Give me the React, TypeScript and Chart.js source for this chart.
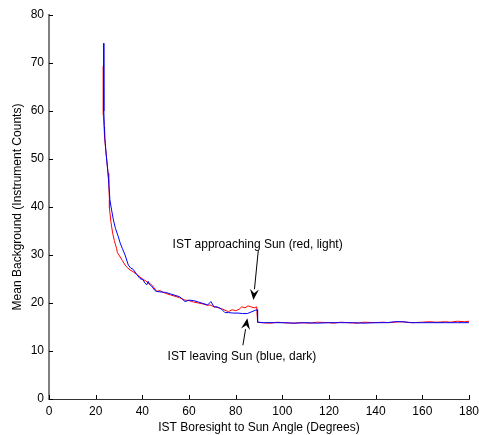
import React, { useEffect, useRef } from "react";
import { Chart, registerables } from "chart.js";

Chart.register(...registerables);

// Red: IST approaching Sun (light)
const redX = [23.3, 23.3, 23.6, 23.8, 24.3, 24.8, 25.3, 25.6, 25.9, 25.9, 26.5, 27.3, 28.0, 29.0, 29.3, 30.5, 31.5, 32.6, 33.5, 34.7, 36.1, 37.5, 39.0, 40.4, 41.5, 42.5, 43.5, 44.5, 46.2, 47.5, 48.5, 50.0, 52.0, 54.0, 56.0, 58.3, 60.0, 62.0, 64.0, 66.0, 68.0, 69.0, 70.7, 72.0, 74.0, 76.9, 78.5, 80.0, 81.5, 82.6, 84.0, 85.3, 86.5, 88.0, 89.0, 89.4, 91.0, 95.0, 98.0, 100.0, 105.0, 108.0, 112.0, 115.0, 120.0, 122.0, 125.0, 128.0, 132.0, 135.0, 140.0, 143.0, 146.0, 150.0, 153.0, 156.0, 160.0, 163.0, 166.0, 170.0, 172.0, 175.0, 178.0, 180.0];
const redY = [69.4, 59.2, 56.7, 54.6, 52.0, 49.5, 47.0, 45.0, 41.5, 39.8, 37.0, 34.5, 33.0, 31.3, 30.5, 29.6, 28.8, 27.9, 27.4, 26.9, 26.5, 26.0, 25.4, 24.9, 24.6, 24.2, 24.0, 23.5, 22.4, 22.6, 22.3, 22.0, 21.7, 21.4, 21.1, 20.6, 20.5, 20.2, 20.0, 19.8, 19.5, 19.6, 19.2, 19.1, 18.8, 18.2, 18.6, 18.4, 18.7, 19.2, 19.0, 19.4, 19.2, 19.0, 19.2, 16.0, 15.9, 15.8, 16.0, 15.9, 15.8, 15.9, 15.8, 16.0, 15.9, 15.8, 16.0, 15.9, 15.8, 16.0, 15.9, 16.0, 15.9, 16.1, 16.0, 15.9, 16.0, 16.1, 16.0, 16.1, 16.0, 16.2, 16.1, 16.2];

// Blue: IST leaving Sun (dark)
const blueX = [23.4, 23.5, 23.7, 24.0, 24.5, 25.0, 25.5, 26.1, 26.6, 27.6, 28.5, 29.7, 30.5, 31.4, 32.6, 34.0, 35.0, 36.1, 37.5, 39.0, 40.4, 41.0, 41.9, 42.5, 43.0, 44.0, 45.4, 46.2, 48.0, 50.0, 52.0, 54.0, 56.0, 58.3, 60.0, 62.0, 64.0, 66.0, 68.0, 69.4, 70.7, 72.0, 74.0, 75.4, 77.0, 79.0, 81.0, 83.0, 85.0, 87.0, 88.5, 89.3, 89.4, 92.0, 96.0, 100.0, 105.0, 110.0, 115.0, 120.0, 125.0, 130.0, 135.0, 140.0, 145.0, 148.0, 152.0, 155.0, 160.0, 165.0, 170.0, 175.0, 180.0];
const blueY = [74.1, 60.0, 57.0, 54.0, 51.0, 48.5, 46.0, 41.5, 40.0, 37.3, 35.5, 33.8, 32.5, 31.4, 30.0, 27.9, 27.3, 27.0, 26.0, 25.1, 24.8, 24.2, 23.8, 24.5, 23.9, 23.5, 22.6, 22.4, 22.3, 22.2, 21.9, 21.6, 21.3, 20.3, 20.6, 20.5, 20.2, 19.9, 19.6, 20.3, 19.2, 19.2, 18.7, 18.0, 18.0, 17.9, 17.9, 17.8, 17.8, 18.2, 18.5, 18.6, 16.0, 15.9, 15.9, 15.9, 15.8, 15.9, 15.8, 15.9, 15.9, 15.9, 15.8, 15.9, 15.9, 16.1, 16.1, 15.9, 15.9, 15.9, 15.9, 15.9, 15.9];

const xTicks = [0, 20, 40, 60, 80, 100, 120, 140, 160, 180];
const yTicks = [0, 10, 20, 30, 40, 50, 60, 70, 80];

const annotations = [
  { text: "IST approaching Sun (red, light)", tx: 89.4, ty: 32.1, fromX: 89.7, fromY: 31.0, toX: 87.6, toY: 20.6 },
  { text: "IST leaving Sun (blue, dark)", tx: 82.7, ty: 8.75, fromX: 83.1, fromY: 11.2, toX: 85.0, toY: 16.8 },
];

const FONT = "'Liberation Sans', Arial, sans-serif";

const decorPlugin = {
  id: "decor",
  afterDraw(chart: any) {
    const ctx = chart.ctx;
    const xs = chart.scales.x;
    const ys = chart.scales.y;
    const area = chart.chartArea;
    ctx.save();
    // inward tick marks
    ctx.strokeStyle = "#000";
    ctx.lineWidth = 1;
    ctx.beginPath();
    xTicks.forEach((v) => {
      const px = Math.round(xs.getPixelForValue(v)) + 0.5;
      ctx.moveTo(px, area.bottom);
      ctx.lineTo(px, area.bottom - 4);
    });
    yTicks.forEach((v) => {
      const py = Math.round(ys.getPixelForValue(v)) + 0.5;
      ctx.moveTo(area.left, py);
      ctx.lineTo(area.left + 4, py);
    });
    ctx.stroke();

    // annotations
    ctx.font = `12px ${FONT}`;
    ctx.fillStyle = "#000";
    ctx.textAlign = "center";
    ctx.textBaseline = "middle";
    annotations.forEach((a) => {
      ctx.fillText(a.text, xs.getPixelForValue(a.tx), ys.getPixelForValue(a.ty));
      const x1 = xs.getPixelForValue(a.fromX);
      const y1 = ys.getPixelForValue(a.fromY);
      const x2 = xs.getPixelForValue(a.toX);
      const y2 = ys.getPixelForValue(a.toY);
      const ang = Math.atan2(y2 - y1, x2 - x1);
      const headLen = 11;
      const headW = 4.5;
      const bx = x2 - headLen * Math.cos(ang);
      const by = y2 - headLen * Math.sin(ang);
      ctx.strokeStyle = "#000";
      ctx.lineWidth = 1;
      ctx.beginPath();
      ctx.moveTo(x1, y1);
      ctx.lineTo(bx, by);
      ctx.stroke();
      ctx.beginPath();
      ctx.moveTo(x2, y2);
      ctx.lineTo(bx + headW * Math.sin(ang), by - headW * Math.cos(ang));
      ctx.lineTo(x2 - (headLen - 4) * Math.cos(ang), y2 - (headLen - 4) * Math.sin(ang));
      ctx.lineTo(bx - headW * Math.sin(ang), by + headW * Math.cos(ang));
      ctx.closePath();
      ctx.fill();
    });
    ctx.restore();
  },
};

export default function App() {
  const ref = useRef<HTMLCanvasElement>(null);
  useEffect(() => {
    if (!ref.current) return;
    const chart = new Chart(ref.current, {
      type: "line",
      data: {
        datasets: [
          {
            label: "IST leaving Sun (blue, dark)",
            data: blueX.map((x, i) => ({ x, y: blueY[i] })),
            borderColor: "#0000ff",
            borderWidth: 1,
            pointRadius: 0,
            tension: 0,
          },
          {
            label: "IST approaching Sun (red, light)",
            data: redX.map((x, i) => ({ x, y: redY[i] })),
            borderColor: "#ff0000",
            borderWidth: 1,
            pointRadius: 0,
            tension: 0,
          },
        ],
      },
      options: {
        responsive: false,
        animation: false,
        layout: { padding: { top: 15, right: 10, left: 0, bottom: 0 } },
        plugins: { legend: { display: false }, tooltip: { enabled: false } },
        scales: {
          x: {
            type: "linear",
            min: 0,
            max: 180,
            afterFit: (s: any) => {
              s.height = 36;
              s.paddingLeft = 0;
              s.paddingRight = 0;
            },
            afterBuildTicks: (s: any) => {
              s.ticks = xTicks.map((v) => ({ value: v }));
            },
            grid: { display: false, drawTicks: false },
            border: { display: true, color: "#333", width: 1 },
            ticks: { color: "#000", font: { family: FONT, size: 12 }, padding: 5, maxRotation: 0 },
            title: {
              display: true,
              text: "IST Boresight to Sun Angle (Degrees)",
              color: "#000",
              font: { family: FONT, size: 12 },
              padding: { top: 0, bottom: 0 },
            },
          },
          y: {
            type: "linear",
            min: 0,
            max: 80,
            afterFit: (s: any) => {
              s.width = 49;
              s.paddingTop = 0;
              s.paddingBottom = 0;
            },
            afterBuildTicks: (s: any) => {
              s.ticks = yTicks.map((v) => ({ value: v }));
            },
            grid: { display: false, drawTicks: false },
            border: { display: true, color: "#808080", width: 2 },
            ticks: { color: "#000", font: { family: FONT, size: 12 }, padding: 5 },
            title: {
              display: true,
              text: "Mean Background (Instrument Counts)",
              color: "#000",
              font: { family: FONT, size: 12 },
              padding: { top: 10, bottom: 0 },
            },
          },
        },
      },
      plugins: [decorPlugin],
    });
    return () => chart.destroy();
  }, []);
  return (
    <div style={{ position: "absolute", left: 0, top: 0, width: 479, height: 435, background: "#fff" }}>
      <canvas ref={ref} width={479} height={435} />
    </div>
  );
}
